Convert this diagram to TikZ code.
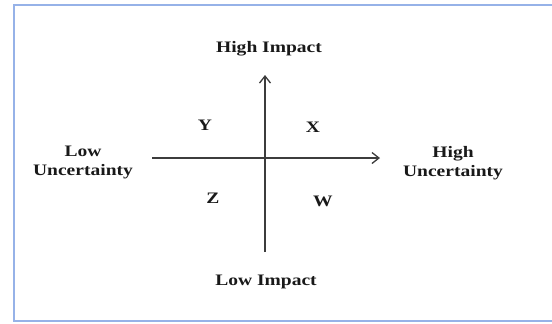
\documentclass[tikz,border=0pt]{standalone}
\usepackage{fontspec}
\setmainfont{Liberation Serif}
\usetikzlibrary{arrows.meta}
\definecolor{framec}{RGB}{150,178,232}
\definecolor{axisc}{RGB}{60,60,60}
\definecolor{txtc}{RGB}{25,25,25}
\tikzset{
  >={Straight Barb[length=3.5pt,width=5.5pt]},
  ax/.style={draw=axisc,line width=0.65pt},
  lbl/.style={font=\fontsize{8}{9.5}\selectfont\bfseries,text=txtc,align=center,inner sep=0pt,xscale=1.22,transform shape},
  every picture/.style={x=0.5pt,y=-0.5pt},
}
\begin{document}
\begin{tikzpicture}
\useasboundingbox (0,0) rectangle (552,323);
\draw[framec,line width=1pt] (560,5)--(14,5)--(14,321)--(560,321);
\coordinate (top) at (265,75); \coordinate (bot) at (265,252);
\coordinate (lft) at (152,158); \coordinate (rgt) at (380,158);
\draw[ax,->] (bot)--(top); \draw[ax,->] (lft)--(rgt);
\node[lbl] (hi) at (269,49){High Impact};
\node[lbl] (li) at (266,282){Low Impact};
\node[lbl] (lu) at (83,162){Low\\Uncertainty};
\node[lbl] (hu) at (453,163){High\\Uncertainty};
\node[lbl] (y) at (205,125){Y}; \node[lbl] (x) at (313,127){X};
\node[lbl] (z) at (213,198){Z}; \node[lbl] (w) at (323,201){W};
\end{tikzpicture}
\end{document}
